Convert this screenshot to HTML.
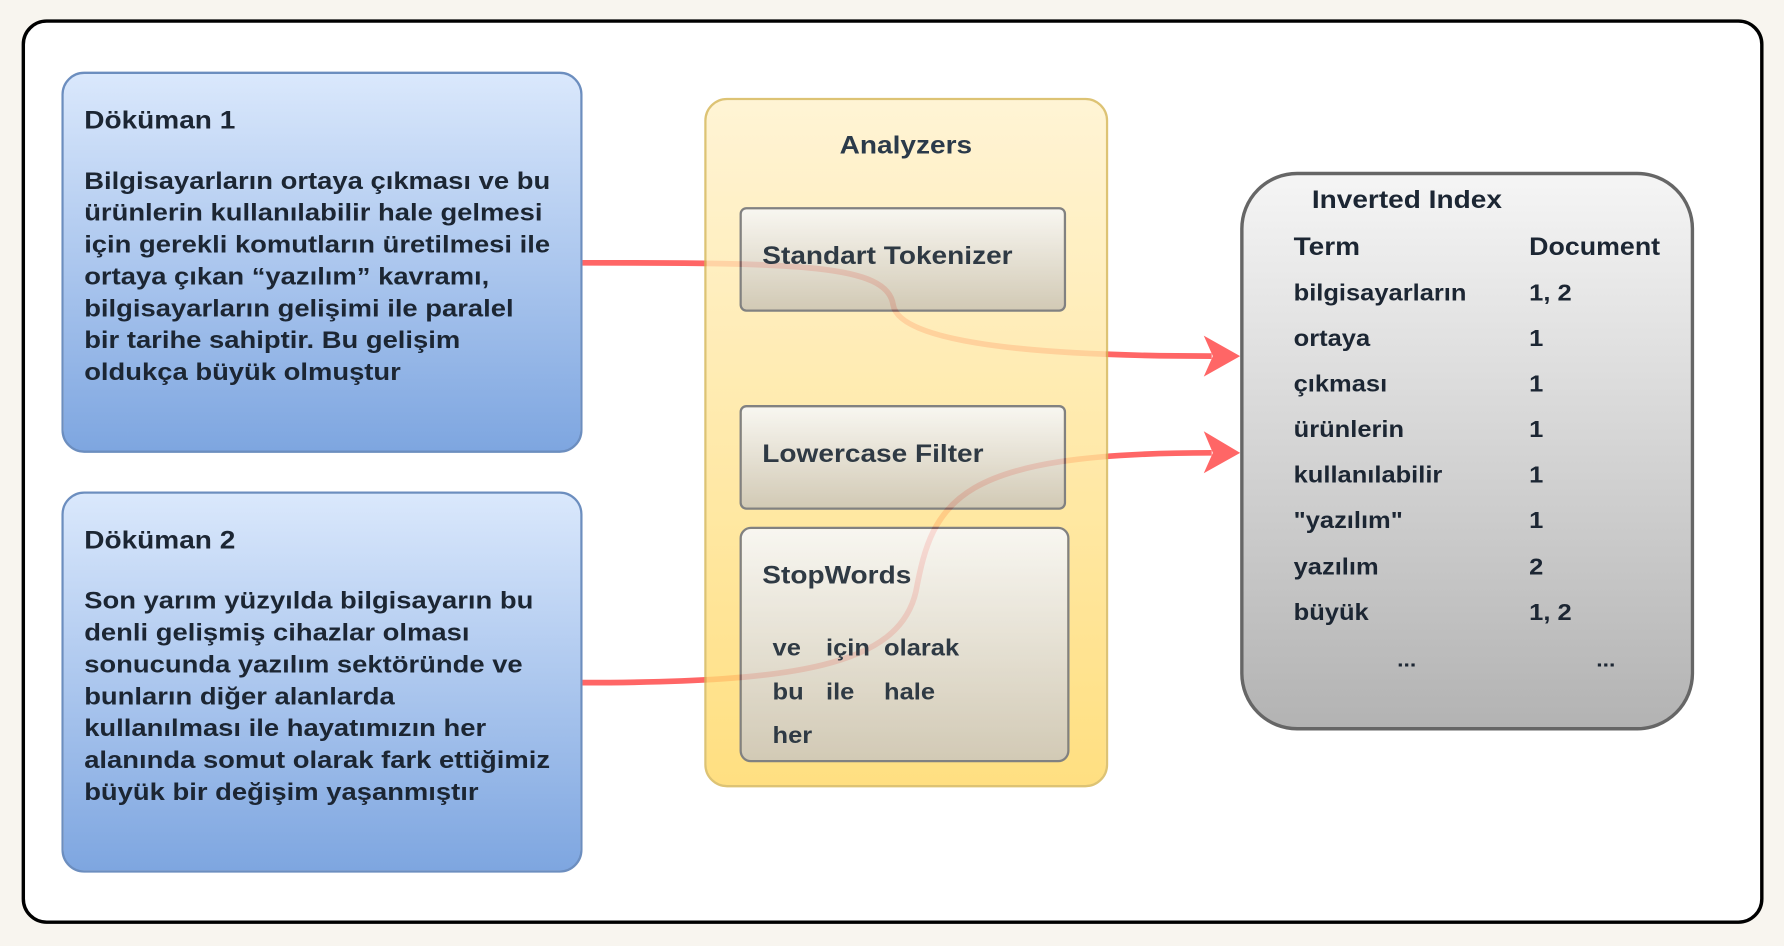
<!DOCTYPE html>
<html><head><meta charset="utf-8"><style>
html,body{margin:0;padding:0;background:#f8f5ef;width:1784px;height:946px;overflow:hidden}
#w{position:absolute;left:0;top:0;width:1568px;height:831px;transform:scale(1.13776);transform-origin:0 0;font-family:"Liberation Sans",sans-serif;font-weight:bold;color:#1c2633}
.a{position:absolute;box-sizing:border-box}
.t{position:absolute;font-size:22px;white-space:nowrap;line-height:28px;transform:scaleX(1.12);transform-origin:0 0}
</style></head><body><div id="w">
<div class="a" style="left:19px;top:17px;width:1531px;height:795px;border:3px solid #000;border-radius:22px;background:#fff"></div>
<div class="a" style="left:54px;top:63px;width:458px;height:335px;border:2.5px solid #6c8ebf;border-radius:20px;background:linear-gradient(#dae8fc,#7ea6e0)"></div>
<div class="t" style="left:74px;top:92px">Döküman 1</div>
<div class="t" style="left:74px;top:145px;font-size:21.5px">Bilgisayarların ortaya çıkması ve bu<br>ürünlerin kullanılabilir hale gelmesi<br>için gerekli komutların üretilmesi ile<br>ortaya çıkan “yazılım” kavramı,<br>bilgisayarların gelişimi ile paralel<br>bir tarihe sahiptir. Bu gelişim<br>oldukça büyük olmuştur</div>
<div class="a" style="left:54px;top:432px;width:458px;height:335px;border:2.5px solid #6c8ebf;border-radius:20px;background:linear-gradient(#dae8fc,#7ea6e0)"></div>
<div class="t" style="left:74px;top:461px">Döküman 2</div>
<div class="t" style="left:74px;top:514px;font-size:21.5px">Son yarım yüzyılda bilgisayarın bu<br>denli gelişmiş cihazlar olması<br>sonucunda yazılım sektöründe ve<br>bunların diğer alanlarda<br>kullanılması ile hayatımızın her<br>alanında somut olarak fark ettiğimiz<br>büyük bir değişim yaşanmıştır</div>
<svg class="a" style="left:0;top:0" width="1568" height="831">
<path d="M512,231 C700,231 780,232 785,268 C790,300 900,313 1065,313" fill="none" stroke="#ff6666" stroke-width="5"/>
<path d="M512,600 C700,600 790,585 805,520 C820,440 840,398 1065,398" fill="none" stroke="#ff6666" stroke-width="5"/>
<polygon points="1090,313 1058,295 1066,313 1058,331" fill="#ff6666"/>
<polygon points="1090,398 1058,379 1066,398 1058,416" fill="#ff6666"/>
</svg>
<div class="a" style="left:619px;top:86px;width:355px;height:606px;opacity:0.82">
<div class="a" style="left:0;top:0;width:355px;height:606px;border:2.5px solid #d6b656;border-radius:20px;background:linear-gradient(#fff2cc,#ffd966)"></div>
<div class="a" style="left:31px;top:96px;width:287px;height:92px;border:2.5px solid #666;border-radius:6px;background:linear-gradient(#f7f5ee,#c9bfa6)"></div>
<div class="a" style="left:31px;top:270px;width:287px;height:92px;border:2.5px solid #666;border-radius:6px;background:linear-gradient(#f7f5ee,#c9bfa6)"></div>
<div class="a" style="left:31px;top:377px;width:290px;height:207px;border:2.5px solid #666;border-radius:10px;background:linear-gradient(#f7f5ee,#c9bfa6)"></div>
</div>
<div class="t" style="left:738px;top:114px;color:#2b3a4a">Analyzers</div>
<div class="t" style="left:670px;top:211px;color:#2f3a44">Standart Tokenizer</div>
<div class="t" style="left:670px;top:385px;color:#2f3a44">Lowercase Filter</div>
<div class="t" style="left:670px;top:492px;color:#2f3a44">StopWords</div>
<div class="t" style="left:679px;top:556px;font-size:20px;color:#2f3a44">ve</div>
<div class="t" style="left:726px;top:556px;font-size:20px;color:#2f3a44">için</div>
<div class="t" style="left:777px;top:556px;font-size:20px;color:#2f3a44">olarak</div>
<div class="t" style="left:679px;top:595px;font-size:20px;color:#2f3a44">bu</div>
<div class="t" style="left:726px;top:595px;font-size:20px;color:#2f3a44">ile</div>
<div class="t" style="left:777px;top:595px;font-size:20px;color:#2f3a44">hale</div>
<div class="t" style="left:679px;top:633px;font-size:20px;color:#2f3a44">her</div>
<div class="a" style="left:1090px;top:151px;width:399px;height:491px;border:3px solid #666;border-radius:50px;background:linear-gradient(#f5f5f5,#b3b3b3)"></div>
<div class="t" style="left:1153px;top:162px">Inverted Index</div>
<div class="t" style="left:1137px;top:203px">Term</div>
<div class="t" style="left:1344px;top:203px;transform:scaleX(1.07)">Document</div>
<div class="t" style="left:1137px;top:238px;font-size:20px;line-height:40.1px">bilgisayarların<br>ortaya<br>çıkması<br>ürünlerin<br>kullanılabilir<br>"yazılım"<br>yazılım<br>büyük</div>
<div class="t" style="left:1344px;top:238px;font-size:20px;line-height:40.1px">1, 2<br>1<br>1<br>1<br>1<br>1<br>2<br>1, 2</div>
<div class="t" style="left:1228px;top:566px;font-size:18px">...</div>
<div class="t" style="left:1403px;top:566px;font-size:18px">...</div>
</div></body></html>
